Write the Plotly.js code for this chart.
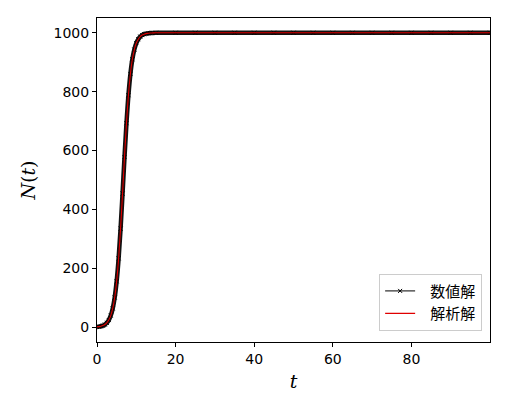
<!DOCTYPE html>
<html>
<head>
<meta charset="utf-8">
<script src="https://cdn.plot.ly/plotly-3.0.1.min.js"></script>
<style>
  html, body { margin: 0; padding: 0; background: #fff; }
  #chart { width: 510px; height: 409px; }
</style>
</head>
<body>
<div id="chart"></div>
<script>
// time points
let t_values = [0, 0.5, 1, 1.5, 2, 2.5, 3, 3.5, 4, 4.5, 5, 5.5, 6, 6.5, 7, 7.5, 8, 8.5, 9, 9.5,
	10, 10.5, 11, 11.5, 12, 12.5, 13, 13.5, 14, 15, 20, 25, 30, 35, 40, 45, 50, 55, 60,
	65, 70, 75, 80, 85, 90, 95, 100];

// numerical solution N(t)
let numeric_values = [1.2, 2.1, 3.4, 5.6, 9.2, 15, 24.5, 39.7, 63.9, 101, 156, 234, 335, 454, 578,
	693, 788, 860, 910, 943, 965, 978, 987, 992, 995, 997, 998, 999, 999.3, 999.8, 1000, 1000,
	1000, 1000, 1000, 1000, 1000, 1000, 1000, 1000, 1000, 1000, 1000, 1000, 1000, 1000, 1000];

// analytic solution N(t)
let analytic_values = [1.2, 2.1, 3.4, 5.6, 9.2, 15, 24.5, 39.7, 63.9, 101, 156, 234, 335, 454, 578,
	693, 788, 860, 910, 943, 965, 978, 987, 992, 995, 997, 998, 999, 999.3, 999.8, 1000, 1000,
	1000, 1000, 1000, 1000, 1000, 1000, 1000, 1000, 1000, 1000, 1000, 1000, 1000, 1000, 1000];

let x_ticks = [0, 20, 40, 60, 80];
let y_ticks = [0, 200, 400, 600, 800, 1000];

// dense markers in the original merge into a thick band
let band = {
	x: t_values,
	y: numeric_values,
	mode: 'lines',
	line: {color: '#111', width: 4.5, shape: 'spline'},
	showlegend: false,
	hoverinfo: 'skip'
};

let numeric = {
	x: t_values,
	y: numeric_values,
	mode: 'lines+markers',
	name: '&nbsp;&nbsp;&nbsp;数値解',
	line: {color: '#000', width: 1},
	marker: {symbol: 'x-thin', size: 4, line: {color: '#000', width: 1}}
};

let analytic = {
	x: t_values,
	y: analytic_values,
	mode: 'lines',
	name: '&nbsp;&nbsp;&nbsp;解析解',
	line: {color: '#e00000', width: 1.1, shape: 'spline'}
};

let tick_font = {family: '"DejaVu Sans", sans-serif', size: 14, color: '#000'};
let math_font = {family: '"DejaVu Serif", "Liberation Serif", serif', size: 19, color: '#000'};

let layout = {
	width: 510,
	height: 409,
	margin: {l: 97, r: 20, t: 18, b: 67},
	paper_bgcolor: '#fff',
	plot_bgcolor: '#fff',
	showlegend: true,
	xaxis: {
		range: [0, 100],
		tickvals: x_ticks,
		ticks: 'outside',
		ticklen: 4,
		tickcolor: '#000',
		tickfont: tick_font,
		showgrid: false,
		zeroline: false,
		showline: true,
		linecolor: '#000',
		linewidth: 1,
		mirror: true,
		title: {text: '<i>t</i>', font: math_font, standoff: 8}
	},
	yaxis: {
		range: [-50, 1050],
		tickvals: y_ticks,
		ticks: 'outside',
		ticklen: 4,
		tickcolor: '#000',
		tickfont: tick_font,
		showgrid: false,
		zeroline: false,
		showline: true,
		linecolor: '#000',
		linewidth: 1,
		mirror: true,
		title: {text: '<i>N</i>(<i>t</i>)', font: math_font, standoff: 12}
	},
	legend: {
		x: 0.98,
		y: 0.035,
		xanchor: 'right',
		yanchor: 'bottom',
		bgcolor: '#fff',
		bordercolor: '#cccccc',
		borderwidth: 1,
		font: {family: '"Noto Sans CJK JP", sans-serif', size: 15, color: '#000'},
		traceorder: 'normal'
	}
};

Plotly.newPlot('chart', [band, numeric, analytic], layout, {displayModeBar: false, staticPlot: true});
</script>
</body>
</html>
